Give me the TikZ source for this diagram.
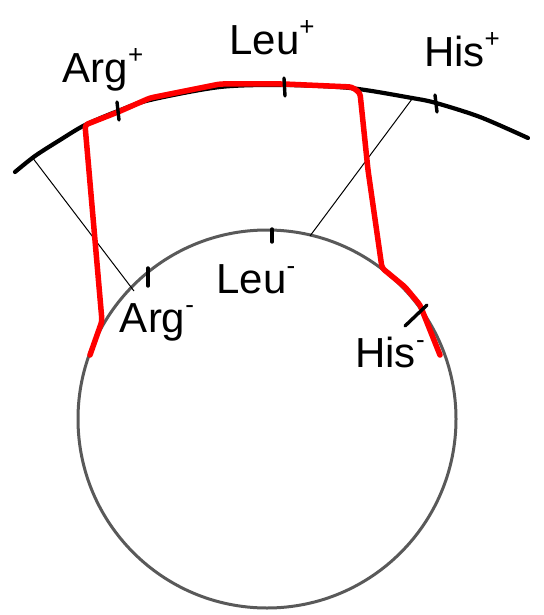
\documentclass[tikz,border=0pt]{standalone}
\usepackage{fontspec}
\setmainfont{Liberation Sans}
\newcommand{\supsign}[1]{\raisebox{0.45em}{\fontsize{26}{26}\selectfont #1}}
\begin{document}
\begin{tikzpicture}[x=1pt,y=-1pt,
  lbl/.style={font=\fontsize{42}{42}\selectfont, inner sep=0pt},
  tick/.style={line width=3.4pt, line cap=round, black},
  thin/.style={line width=1pt, black},
  redpath/.style={line width=5.5pt, red, rounded corners=3pt, line cap=round, line join=round}]
\useasboundingbox (0,0) rectangle (543,615);
% circle
\draw[line width=3pt, black!65] (267,419) circle (189);
% top arc
\draw[line width=4.2pt, line cap=round] plot[smooth] coordinates {(15,172) (35,156) (60,140) (85,125) (118,111) (150,100) (220,87) (284,85) (350,88) (412,98) (436,103) (480,117) (528,138)};
% thin lines
\coordinate (tl1) at (32,157); \coordinate (tl2) at (134,291);
\coordinate (tr1) at (412,99); \coordinate (tr2) at (310,236);
\draw[thin] (tl1) -- (tl2);
\draw[thin] (tr1) -- (tr2);
% red path
\draw[redpath] (90,355) -- (102,321) -- (85,125) -- (118,112) -- (150,98) -- (220,84) -- (284,84) -- (352,87) -- (360,93) -- (368,170) -- (382,268) -- (405,287) -- (420,305) -- (430,330) -- (440,355);
% ticks
\draw[tick] (117,102) -- (119,120);
\draw[tick] (284,78) -- (285,96);
\draw[tick] (435,95) -- (437,112);
\draw[tick] (148,268) -- (148,286);
\draw[tick] (272,229) -- (272,242);
\draw[tick] (405,326) -- (427,305);
% labels
\node[lbl] (argp) at (103,70) {Arg\supsign{+}};
\node[lbl] (leup) at (272,38) {Leu\supsign{+}};
\node[lbl] (hisp) at (462,50) {His\supsign{+}};
\node[lbl] (argm) at (157,322) {Arg\supsign{-}};
\node[lbl] (leum) at (256,279) {Leu\supsign{-}};
\node[lbl] (hism) at (390,352) {His\supsign{-}};
\end{tikzpicture}
\end{document}
